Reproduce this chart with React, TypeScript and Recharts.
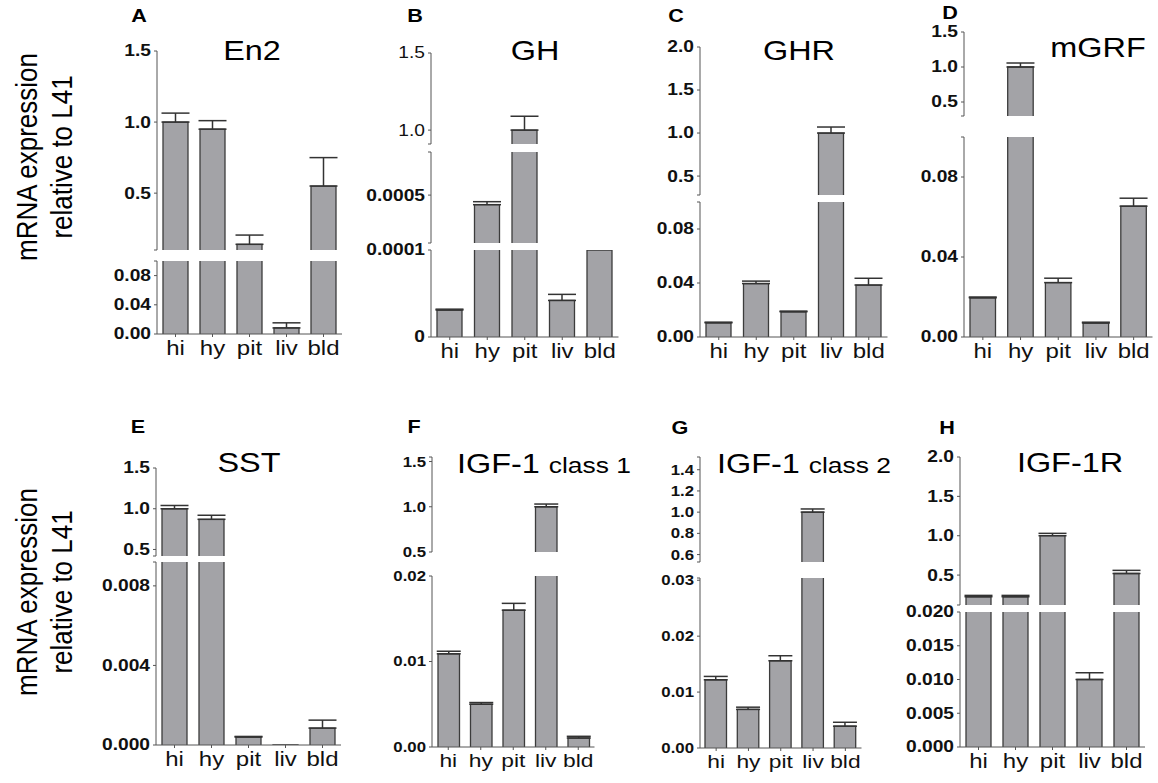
import React from "react";
import { BarChart, Bar, XAxis, YAxis, ErrorBar } from "recharts";

const tissues = ["hi", "hy", "pit", "liv", "bld"];

// A - En2
const en2Values = [1.0, 0.95, 0.14, 0.0083, 0.55];
const en2Errors = [0.063, 0.06, 0.065, 0.007, 0.2];
const en2Ticks = [[0.1, 0.5, 1.0, 1.5], [0, 0.04, 0.08, 0.1]];
const en2Labels = [["", "0.5", "1.0", "1.5"], ["0.00", "0.04", "0.08", ""]];

// B - GH
const ghValues = [0.000031, 0.00042, 1.0, 0.000042, 0.0001];
const ghErrors = [0.000001, 0.000025, 0.09, 0.000007, 0];
const ghTicks = [[0.91, 1.0, 1.5], [0.0001, 0.0005, 0.00086], [0, 0.0001]];
const ghLabels = [["", "1.0", "1.5"], ["", "0.0005", ""], ["0", "0.0001"]];

// C - GHR
const ghrValues = [0.0105, 0.0396, 0.0187, 1.0, 0.0385];
const ghrErrors = [0.0005, 0.0018, 0.0005, 0.07, 0.005];
const ghrTicks = [[0.28, 0.5, 1.0, 1.5, 2.0], [0, 0.04, 0.08, 0.1]];
const ghrLabels = [["", "0.5", "1.0", "1.5", "2.0"], ["0.00", "0.04", "0.08", ""]];

// D - mGRF
const mgrfValues = [0.0196, 1.0, 0.0272, 0.007, 0.0654];
const mgrfErrors = [0.0004, 0.057, 0.0022, 0.0004, 0.004];
const mgrfTicks = [[0.3, 0.5, 1.0, 1.5], [0, 0.04, 0.08, 0.1]];
const mgrfLabels = [["", "0.5", "1.0", "1.5"], ["0.00", "0.04", "0.08", ""]];

// E - SST
const sstValues = [1.0, 0.87, 0.0004, 0.00001, 0.00085];
const sstErrors = [0.04, 0.05, 0.00003, 0, 0.0004];
const sstTicks = [[0.42, 0.5, 1.0, 1.5], [0, 0.004, 0.008, 0.0092]];
const sstLabels = [["", "0.5", "1.0", "1.5"], ["0.000", "0.004", "0.008", ""]];

// F - IGF-1 class 1
const igfC1Values = [0.0109, 0.005, 0.016, 1.0, 0.00105];
const igfC1Errors = [0.0003, 0.0002, 0.0008, 0.03, 0.0002];
const igfC1Ticks = [[0.5, 1.0, 1.5, 1.55], [0, 0.01, 0.02]];
const igfC1Labels = [["0.5", "1.0", "1.5", ""], ["0.00", "0.01", "0.02"]];

// G - IGF-1 class 2
const igfC2Values = [0.0122, 0.0069, 0.0156, 1.0, 0.0039];
const igfC2Errors = [0.0006, 0.0004, 0.0009, 0.03, 0.0007];
const igfC2Ticks = [[0.53, 0.6, 0.8, 1.0, 1.2, 1.4, 1.52], [0, 0.01, 0.02, 0.03, 0.0304]];
const igfC2Labels = [["", "0.6", "0.8", "1.0", "1.2", "1.4", ""], ["0.00", "0.01", "0.02", "0.03", ""]];

// H - IGF-1R
const igfrValues = [0.225, 0.225, 1.0, 0.01, 0.52];
const igfrErrors = [0.017, 0.017, 0.03, 0.001, 0.04];
const igfrTicks = [[0.12, 0.5, 1.0, 1.5, 2.0], [0, 0.005, 0.01, 0.015, 0.02]];
const igfrLabels = [["", "0.5", "1.0", "1.5", "2.0"], ["0.000", "0.005", "0.010", "0.015", "0.020"]];

const FONT = "'Liberation Sans', Arial, Helvetica, sans-serif";
const BAR_FILL = "#a3a3a7";
const BAR_STROKE = "#3c3c3c";
const AXIS = "#555";
const SX = 1.2; // the figure is stretched horizontally

interface Layout {
  axisX: number;
  band: number;
  barSize: number;
  capW: number;
  tickFont: number;
  xFont: number;
  weights?: string[];
  segs: number[][]; // [top, bottom] pixel of each axis piece, top piece first
}

interface PanelDef {
  values: number[];
  errors: number[];
  ticks: number[][];
  labels: string[][];
  layout: Layout;
}

const panels: PanelDef[] = [
  { values: en2Values, errors: en2Errors, ticks: en2Ticks, labels: en2Labels,
    layout: { axisX: 157, band: 37, barSize: 25, capW: 14, tickFont: 16, xFont: 20, segs: [[51, 250], [261, 334]] } },
  { values: ghValues, errors: ghErrors, ticks: ghTicks, labels: ghLabels,
    layout: { axisX: 431, band: 37.5, barSize: 25, capW: 14, tickFont: 16, xFont: 20, weights: ["normal", "bold", "bold"],
      segs: [[53, 144], [152, 243], [250, 337]] } },
  { values: ghrValues, errors: ghrErrors, ticks: ghrTicks, labels: ghrLabels,
    layout: { axisX: 700, band: 37.5, barSize: 25, capW: 14, tickFont: 16, xFont: 20, segs: [[47, 195], [202, 337]] } },
  { values: mgrfValues, errors: mgrfErrors, ticks: mgrfTicks, labels: mgrfLabels,
    layout: { axisX: 964, band: 37.7, barSize: 25.5, capW: 14, tickFont: 16, xFont: 20, segs: [[32, 116], [137, 337]] } },
  { values: sstValues, errors: sstErrors, ticks: sstTicks, labels: sstLabels,
    layout: { axisX: 156, band: 37, barSize: 25, capW: 14, tickFont: 16, xFont: 20, segs: [[468, 556], [562, 745]] } },
  { values: igfC1Values, errors: igfC1Errors, ticks: igfC1Ticks, labels: igfC1Labels,
    layout: { axisX: 432, band: 32.5, barSize: 21.5, capW: 12, tickFont: 14, xFont: 19, segs: [[457, 552], [576, 747]] } },
  { values: igfC2Values, errors: igfC2Errors, ticks: igfC2Ticks, labels: igfC2Labels,
    layout: { axisX: 700, band: 32.3, barSize: 21.5, capW: 12, tickFont: 14, xFont: 19, segs: [[457, 562], [578, 748]] } },
  { values: igfrValues, errors: igfrErrors, ticks: igfrTicks, labels: igfrLabels,
    layout: { axisX: 960, band: 37, barSize: 25, capW: 14, tickFont: 16, xFont: 20, segs: [[457, 605], [612, 747]] } },
];

// cut the values into one axis piece
function segmentData(values: number[], errors: number[], lo: number, hi: number, isBottom: boolean) {
  return tissues.map((name, i) => {
    const val = values[i];
    const inSeg = isBottom || val > lo;
    const cut = val > hi;
    const showErr = inSeg && !cut && errors[i] > 0;
    return { name, v: inSeg ? Math.min(val, hi) : null, e: showErr ? [0, errors[i]] : null, cut };
  });
}

const BarShape = (props: any) => {
  const { x, y, width, height, payload } = props;
  if (!payload || payload.v == null || !height) return <g />;
  const d = payload.cut
    ? `M${x},${y + height}L${x},${y}M${x + width},${y}L${x + width},${y + height}`
    : `M${x},${y + height}L${x},${y}L${x + width},${y}L${x + width},${y + height}`;
  return (
    <g>
      <rect x={x} y={y} width={width} height={height} fill={BAR_FILL} />
      <path d={d} stroke={BAR_STROKE} strokeWidth={1.3} fill="none" />
    </g>
  );
};

const makeYTick = (tks: number[], lbls: string[], size: number, weight: string) => (props: any) => {
  const { x, y, payload } = props;
  const idx = tks.findIndex((t) => Math.abs(t - payload.value) < 1e-12);
  const label = idx >= 0 ? lbls[idx] : "";
  if (!label) return <g />;
  return (
    <text transform={`translate(${x},${y}) scale(${SX},1)`} textAnchor="end" dominantBaseline="central"
      fontSize={size} fontWeight={weight} fill="#111" fontFamily={FONT}>
      {label}
    </text>
  );
};

const makeXTick = (size: number) => (props: any) => {
  const { x, y, payload } = props;
  return (
    <text transform={`translate(${x},${y}) scale(${SX},1)`} textAnchor="middle" dy="0.74em"
      fontSize={size} fill="#111" fontFamily={FONT}>
      {payload.value}
    </text>
  );
};

const Y_W = 80;
const M_T = 12;
const M_B = 12;
const M_R = 6;
const X_H = 34;

const Panel: React.FC<{ p: PanelDef }> = ({ p }) => {
  const { layout } = p;
  const plotW = layout.band * tissues.length;
  return (
    <>
      {p.ticks.map((tks, si) => {
        const isBottom = si === p.ticks.length - 1;
        const [top, bottom] = layout.segs[si];
        const lo = tks[0];
        const hi = tks[tks.length - 1];
        const data = segmentData(p.values, p.errors, lo, hi, isBottom);
        const chartW = Y_W + plotW + M_R;
        const chartH = M_T + (bottom - top) + (isBottom ? X_H : M_B);
        const weight = layout.weights ? layout.weights[si] : "bold";
        return (
          <div key={si} style={{ position: "absolute", left: layout.axisX - Y_W, top: top - M_T }}>
            <BarChart width={chartW} height={chartH} data={data}
              margin={{ top: M_T, right: M_R, bottom: isBottom ? 0 : M_B, left: 0 }}>
              <XAxis dataKey="name" hide={!isBottom} height={X_H} interval={0}
                tickSize={3} tickMargin={3} axisLine={{ stroke: AXIS }} tickLine={{ stroke: AXIS }}
                tick={makeXTick(layout.xFont)} />
              <YAxis width={Y_W} type="number" domain={[lo, hi]} ticks={tks} allowDataOverflow interval={0}
                tickSize={3} tickMargin={3} axisLine={{ stroke: AXIS }} tickLine={{ stroke: AXIS }}
                tick={makeYTick(tks, p.labels[si], layout.tickFont, weight)} />
              <Bar dataKey="v" barSize={layout.barSize} isAnimationActive={false} shape={BarShape}>
                <ErrorBar dataKey="e" width={layout.capW} stroke="#333" strokeWidth={1.5} direction="y" />
              </Bar>
            </BarChart>
          </div>
        );
      })}
    </>
  );
};

const Stretch: React.FC<{ x: number; y: number; size: number; weight?: string; anchor?: string; children: React.ReactNode }> = ({
  x, y, size, weight = "normal", anchor = "middle", children,
}) => (
  <text transform={`translate(${x},${y}) scale(${SX},1)`} textAnchor={anchor} fontSize={size}
    fontWeight={weight} fill="#000" fontFamily={FONT}>
    {children}
  </text>
);

export default function App() {
  return (
    <div style={{ position: "absolute", left: 0, top: 0, width: 1158, height: 783, background: "#fff", overflow: "hidden" }}>
      {panels.map((p, i) => (
        <Panel key={i} p={p} />
      ))}
      <svg width={1158} height={783} style={{ position: "absolute", left: 0, top: 0, pointerEvents: "none" }}>
        {/* y labels */}
        {[157, 592].map((cy) => (
          <g key={cy}>
            <text transform={`translate(27,${cy}) rotate(-90) scale(1,1.15)`} textAnchor="middle" dominantBaseline="central"
              fontSize={26} fontFamily={FONT} fill="#000">mRNA expression</text>
            <text transform={`translate(62,${cy}) rotate(-90) scale(1,1.15)`} textAnchor="middle" dominantBaseline="central"
              fontSize={26} fontFamily={FONT} fill="#000">relative to L41</text>
          </g>
        ))}
        {/* panel letters */}
        <Stretch x={139} y={22} size={18} weight="bold">A</Stretch>
        <Stretch x={415} y={22} size={18} weight="bold">B</Stretch>
        <Stretch x={676} y={22} size={18} weight="bold">C</Stretch>
        <Stretch x={950} y={19} size={18} weight="bold">D</Stretch>
        <Stretch x={138} y={433} size={18} weight="bold">E</Stretch>
        <Stretch x={414} y={433} size={18} weight="bold">F</Stretch>
        <Stretch x={680} y={434} size={18} weight="bold">G</Stretch>
        <Stretch x={947} y={434} size={18} weight="bold">H</Stretch>
        {/* titles */}
        <Stretch x={252} y={60} size={27}>En2</Stretch>
        <Stretch x={535} y={60} size={27}>GH</Stretch>
        <Stretch x={799} y={60} size={27}>GHR</Stretch>
        <Stretch x={1098} y={57} size={27}>mGRF</Stretch>
        <Stretch x={249} y={472} size={27}>SST</Stretch>
        <Stretch x={457} y={473} size={27} anchor="start">
          IGF-1 <tspan fontSize={22}>class 1</tspan>
        </Stretch>
        <Stretch x={717} y={473} size={27} anchor="start">
          IGF-1 <tspan fontSize={22}>class 2</tspan>
        </Stretch>
        <Stretch x={1070} y={472} size={27}>IGF-1R</Stretch>
      </svg>
    </div>
  );
}
